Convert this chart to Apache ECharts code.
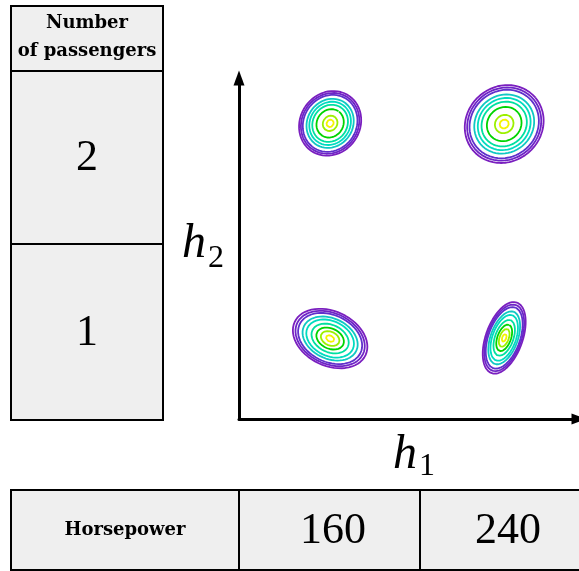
<!DOCTYPE html>
<html>
<head>
<meta charset="utf-8">
<script src="https://cdn.jsdelivr.net/npm/echarts@6/dist/echarts.min.js"></script>
<style>
  html, body { margin: 0; padding: 0; background: #ffffff; }
  #chart { width: 579px; height: 571px; }
</style>
</head>
<body>
<div id="chart"></div>
<script>
// Latent-space clusters, one per (passengers, horsepower) combination
const clusterPassengers = ['2', '2', '1', '1'];
const clusterHorsepower = ['160', '240', '160', '240'];
const centerH1 = [2.68, 7.80, 2.68, 7.80];
const centerH2 = [8.67, 8.65, 2.36, 2.38];
// outer contour semi-axes (h units) and tilt of the major axis (degrees)
const majorAxis = [0.98, 1.20, 1.15, 1.10];
const minorAxis = [0.88, 1.10, 0.80, 0.54];
const tiltDeg = [55, 40, -25, 70];
// iso-density rings, relative size from the outermost to the innermost
const ringScaleTop = [1.0, 0.94, 0.88, 0.76, 0.67, 0.575, 0.44, 0.237, 0.115];
const ringScaleBottom = [1.0, 0.93, 0.86, 0.74, 0.64, 0.50, 0.37, 0.25, 0.11];
const clusterRings = [ringScaleTop, ringScaleTop, ringScaleBottom, ringScaleBottom];

// table labels
const passengerRows = ['2', '1'];
const horsepowerCols = ['160', '240'];
const passengerHeader = 'Number\nof passengers';
const horsepowerHeader = 'Horsepower';

// contour colours, low density (outer) to high density (inner)
const levelColors = ['#7a1fbf', '#6e24c6', '#6030cc', '#10c8c4', '#00dcc0', '#00e0a0', '#00d400', '#9cf000', '#f4f400'];

const SERIF = '"Liberation Serif", "DejaVu Serif", serif';
const BOLD_SERIF = '"DejaVu Serif", serif';

function ellipsePoints(c, s) {
  const pts = [];
  const th = tiltDeg[c] * Math.PI / 180;
  const a = majorAxis[c] * s, b = minorAxis[c] * s;
  const n = 120;
  for (let i = 0; i <= n; i++) {
    const t = 2 * Math.PI * i / n;
    const u = a * Math.cos(t), v = b * Math.sin(t);
    pts.push([centerH1[c] + u * Math.cos(th) - v * Math.sin(th),
              centerH2[c] + u * Math.sin(th) + v * Math.cos(th)]);
  }
  return pts;
}

const series = [];
for (let c = 0; c < centerH1.length; c++) {
  clusterRings[c].forEach((s, k) => {
    series.push({
      name: clusterPassengers[c] + ' / ' + clusterHorsepower[c] + ' #' + k,
      type: 'line',
      data: ellipsePoints(c, s),
      showSymbol: false,
      symbol: 'none',
      smooth: false,
      silent: true,
      lineStyle: { color: levelColors[k], width: 1.8 }
    });
  });
}

function axisCommon() {
  return {
    type: 'value', min: 0, max: 10,
    axisLine: {
      show: true, onZero: false,
      symbol: ['none', 'triangle'], symbolSize: [11, 15],
      lineStyle: { color: '#000', width: 3 }
    },
    axisTick: { show: false },
    axisLabel: { show: false },
    splitLine: { show: false }
  };
}

function cell(x, y, w, h) {
  return { type: 'rect', shape: { x: x, y: y, width: w, height: h },
           style: { fill: '#efefef', stroke: '#000', lineWidth: 2 }, silent: true };
}
function label(text, x, y, font, lineHeight) {
  return { type: 'text', silent: true, z: 10,
           style: { text: text, x: x, y: y, font: font, fill: '#000',
                    align: 'center', verticalAlign: 'middle',
                    textAlign: 'center', textVerticalAlign: 'middle',
                    lineHeight: lineHeight } };
}

const graphic = [
  // passengers table
  cell(11, 6, 152, 65),
  cell(11, 71, 152, 173),
  cell(11, 244, 152, 176),
  label(passengerHeader, 87, 37, 'bold 18px ' + BOLD_SERIF, 28),
  label(passengerRows[0], 87, 158, '44px ' + SERIF),
  label(passengerRows[1], 87, 333, '44px ' + SERIF),
  // horsepower table
  cell(11, 490, 228, 80),
  cell(239, 490, 181, 80),
  cell(420, 490, 181, 80),
  label(horsepowerHeader, 125, 530, 'bold 18px ' + BOLD_SERIF),
  label(horsepowerCols[0], 333, 531, '44px ' + SERIF),
  label(horsepowerCols[1], 508, 531, '44px ' + SERIF),
  // axis names
  label('h', 194, 244, 'italic 48px ' + SERIF),
  label('2', 216, 259, '32px ' + SERIF),
  label('h', 405, 455, 'italic 48px ' + SERIF),
  label('1', 427, 467, '32px ' + SERIF)
];

const chart = echarts.init(document.getElementById('chart'), null, { renderer: 'canvas' });
chart.setOption({
  animation: false,
  backgroundColor: '#ffffff',
  grid: { left: 239, top: 78, width: 343, bottom: 152, containLabel: false },
  xAxis: axisCommon(),
  yAxis: axisCommon(),
  series: series,
  graphic: graphic
});
</script>
</body>
</html>
